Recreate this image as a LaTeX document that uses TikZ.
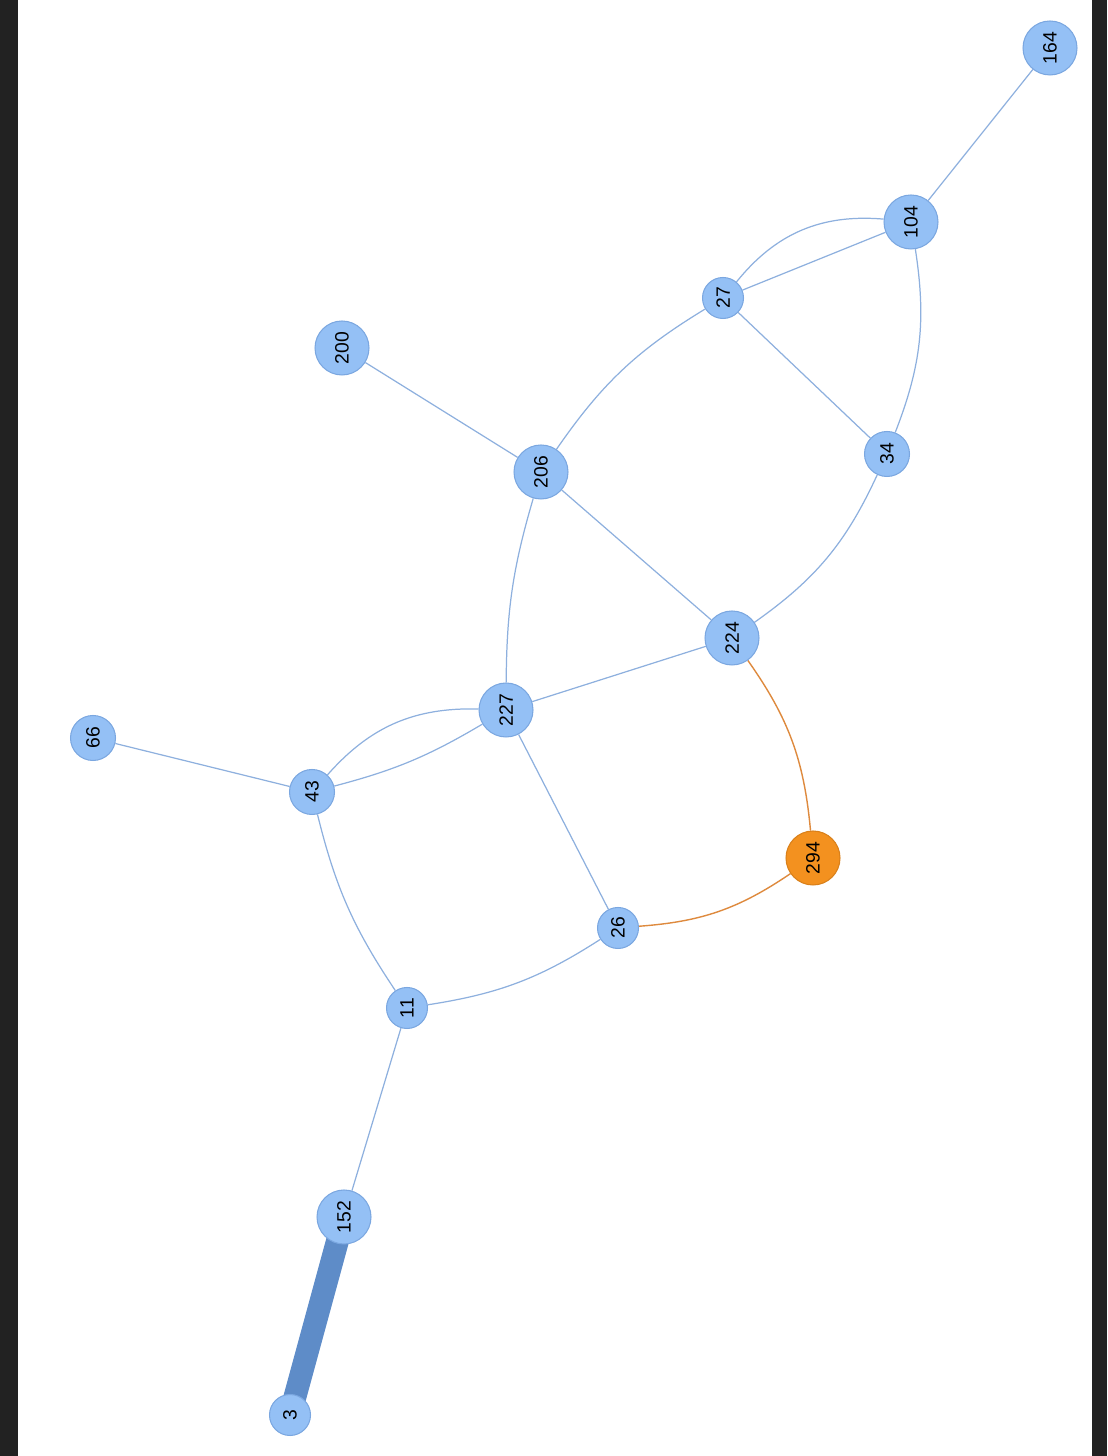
\documentclass[tikz,border=0pt]{standalone}
\usepackage{fontspec}
\setmainfont{Liberation Sans}
\usetikzlibrary{backgrounds}
\definecolor{nfill}{HTML}{94C0F5}
\definecolor{ndraw}{HTML}{7BA7E0}
\definecolor{edgeb}{HTML}{8EB0DE}
\definecolor{thickb}{HTML}{5E8CC8}
\definecolor{ofill}{HTML}{F3911F}
\definecolor{odraw}{HTML}{D9801A}
\definecolor{edgeo}{HTML}{DE8A3E}
\definecolor{frame}{HTML}{222222}
\begin{document}
\begin{tikzpicture}[x=0.02cm,y=0.02cm,
  big/.style={circle,fill=nfill,draw=ndraw,line width=0.6pt,minimum size=1.08cm,inner sep=0pt,font=\fontsize{11}{11}\selectfont,rotate=90},
  small/.style={big,minimum size=0.82cm},
  mid/.style={big,minimum size=0.9cm},
  orange/.style={big,fill=ofill,draw=odraw},
  eb/.style={draw=edgeb,line width=0.7pt},
  eo/.style={draw=edgeo,line width=0.8pt},
  ethick/.style={draw=thickb,line width=13pt}]
\useasboundingbox (0,0) rectangle (1107,1456);
% nodes
\node[big] (n164) at (1050,1408) {164};
\node[big] (n104) at (911,1234) {104};
\node[small] (n27) at (723,1158) {27};
\node[big] (n200) at (342,1108) {200};
\node[big] (n206) at (541,984) {206};
\node[mid] (n34) at (887,1002) {34};
\node[big] (n224) at (732,818) {224};
\node[big] (n227) at (506,746) {227};
\node[mid] (n66) at (93,718) {66};
\node[mid] (n43) at (312,664) {43};
\node[orange] (n294) at (813,598) {294};
\node[small] (n26) at (618,528) {26};
\node[small] (n11) at (407,448) {11};
\node[big] (n152) at (344,239) {152};
\node[small] (n3) at (290,41) {3};
% edges
\begin{pgfonlayer}{background}
\fill[frame] (0,0) rectangle (18,1456);
\fill[frame] (1092,0) rectangle (1107,1456);
\draw[eb] (n164) -- (n104);
\draw[eb] (n27) -- (n104);
\draw[eb] (n27) to[bend left=28] (n104);
\draw[eb] (n104) to[bend left=15] (n34);
\draw[eb] (n27) -- (n34);
\draw[eb] (n206) to[bend left=12] (n27);
\draw[eb] (n200) -- (n206);
\draw[eb] (n206) -- (n224);
\draw[eb] (n227) to[bend left=8] (n206);
\draw[eb] (n224) to[bend right=15] (n34);
\draw[eb] (n227) -- (n224);
\draw[eo] (n224) to[bend left=15] (n294);
\draw[eo] (n26) to[bend right=15] (n294);
\draw[eb] (n43) to[bend left=25] (n227);
\draw[eb] (n43) to[bend right=8] (n227);
\draw[eb] (n227) -- (n26);
\draw[eb] (n43) -- (n66);
\draw[eb] (n43) to[bend right=10] (n11);
\draw[eb] (n11) to[bend right=12] (n26);
\draw[eb] (n11) -- (n152);
\draw[ethick] (n152.center) -- (n3.center);
\end{pgfonlayer}
\end{tikzpicture}
\end{document}
